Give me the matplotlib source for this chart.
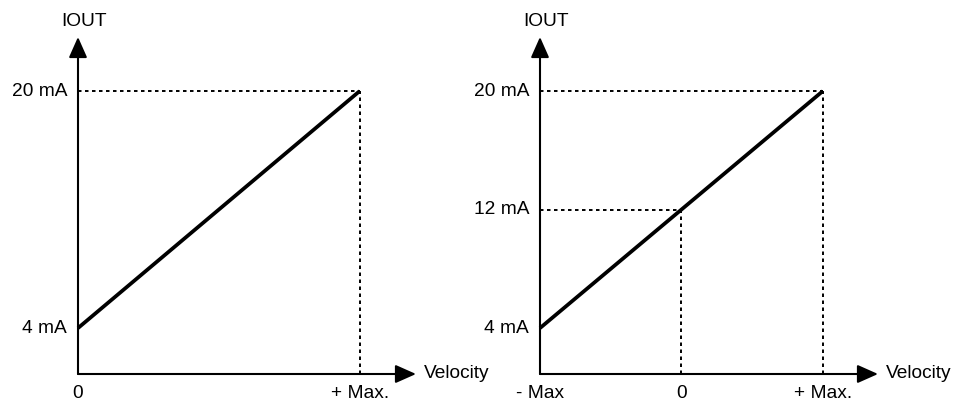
import matplotlib.pyplot as plt

plt.rcParams['font.family'] = ['Liberation Sans', 'DejaVu Sans']

# ---------------------------------------------------------------------------
# Data: output current vs velocity
# ---------------------------------------------------------------------------
left_vel = [0, 1]            # 0 .. +Max
left_iout = [4, 20]          # mA
left_vel_labels = ["0", "+ Max."]

right_vel = [-1, 0, 1]       # -Max .. 0 .. +Max
right_iout = [4, 12, 20]     # mA
right_vel_labels = ["- Max", "0", "+ Max."]

# ---------------------------------------------------------------------------
# Figure
# ---------------------------------------------------------------------------
W, H = 958, 403
FS = 13.8
fig = plt.figure(figsize=(W / 100, H / 100), dpi=100)

Y_LO, Y_HI = 0.9, 23.65      # mA at x-axis line / top of arrow


def make_axes(px_left, px_right, xlim):
    ax = fig.add_axes([px_left / W, (H - 374) / H,
                       (px_right - px_left) / W, (374 - 37) / H])
    ax.set_xlim(*xlim)
    ax.set_ylim(Y_LO, Y_HI)
    ax.axis('off')
    return ax


def draw_frame(ax, x0, x1):
    arrow = dict(arrowstyle='-|>,head_length=0.9,head_width=0.4',
                 color='black', lw=1.5, shrinkA=0, shrinkB=0,
                 mutation_scale=14)
    ax.annotate('', xy=(x1, Y_LO), xytext=(x0, Y_LO), arrowprops=arrow,
                annotation_clip=False)
    ax.annotate('', xy=(x0, Y_HI), xytext=(x0, Y_LO), arrowprops=arrow,
                annotation_clip=False)
    ax.annotate('IOUT', xy=(x0, Y_HI), xytext=(6, 15),
                textcoords='offset pixels', ha='center', va='center',
                fontsize=FS, annotation_clip=False)
    ax.annotate('Velocity', xy=(x1, Y_LO), xytext=(8, 0),
                textcoords='offset pixels', ha='left', va='center',
                fontsize=FS, annotation_clip=False)


def ylabel(ax, x0, val):
    ax.annotate(f'{val} mA', xy=(x0, val), xytext=(-11, 0),
                textcoords='offset pixels', ha='right', va='center',
                fontsize=FS, annotation_clip=False)


def xlabel(ax, x, text):
    ax.annotate(text, xy=(x, Y_LO), xytext=(0, -20),
                textcoords='offset pixels', ha='center', va='center',
                fontsize=FS, annotation_clip=False)


dot = dict(color='black', lw=1.4, linestyle=(0, (1.8, 1.8)), clip_on=False)

# --- left panel ------------------------------------------------------------
axl = make_axes(78, 416, (0, 1.2))
draw_frame(axl, 0, 1.2)
axl.plot([0, left_vel[-1]], [left_iout[-1]] * 2, **dot)
axl.plot([left_vel[-1]] * 2, [Y_LO, left_iout[-1]], **dot)
axl.plot(left_vel, left_iout, color='black', lw=2.7, clip_on=False,
         solid_capstyle='butt')
for v in (left_iout[0], left_iout[-1]):
    ylabel(axl, 0, v)
for v, t in zip(left_vel, left_vel_labels):
    xlabel(axl, v, t)

# --- right panel -----------------------------------------------------------
axr = make_axes(540, 878, (-1, 1.39))
draw_frame(axr, -1, 1.39)
for v, i in zip(right_vel[1:], right_iout[1:]):
    axr.plot([-1, v], [i, i], **dot)
    axr.plot([v, v], [Y_LO, i], **dot)
axr.plot(right_vel, right_iout, color='black', lw=2.7, clip_on=False,
         solid_capstyle='butt')
for v in right_iout:
    ylabel(axr, -1, v)
for v, t in zip(right_vel, right_vel_labels):
    xlabel(axr, v, t)

fig.savefig('out.png', dpi=100, facecolor='white')
